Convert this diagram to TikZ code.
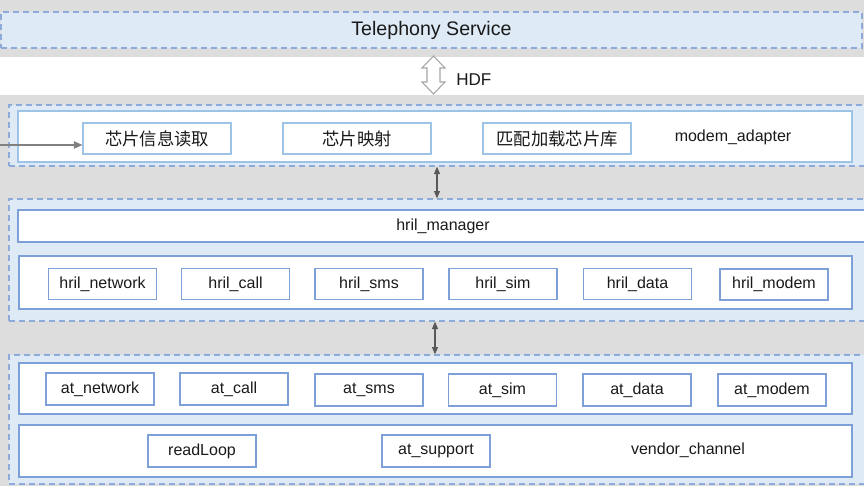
\documentclass[tikz,border=0pt]{standalone}
\usepackage{fontspec}
\setmainfont{Liberation Sans}
\newfontfamily\cjk{Noto Sans CJK SC}
\usetikzlibrary{arrows.meta}
\definecolor{bggray}{HTML}{DDDDDD}
\definecolor{lblue}{HTML}{DEEAF6}
\definecolor{dashb}{HTML}{8EAADB}
\definecolor{boxb}{HTML}{7DA0D8}
\definecolor{lboxb}{HTML}{9DC3E6}
\definecolor{txt}{HTML}{1A1A1A}
\definecolor{arrg}{HTML}{595959}
\definecolor{hdfg}{HTML}{A6A6A6}
\definecolor{leftg}{HTML}{808080}
\begin{document}
\begin{tikzpicture}[x=0.75pt,y=-0.75pt,
  every node/.style={inner sep=0pt, text=txt, font=\fontsize{12}{14}\selectfont},
  outerbox/.style={draw=dashb, fill=lblue, line width=1pt, dash pattern=on 4.5pt off 3pt, minimum width=645.75pt},
  rowbox/.style={draw=boxb, fill=white, line width=0.8pt},
  chipbox/.style={draw=lboxb, fill=white, line width=0.8pt, minimum width=111pt, minimum height=23.25pt, font=\cjk\fontsize{13}{15}\selectfont},
  modbox/.style={draw=boxb, fill=white, line width=0.8pt, minimum width=81pt},
  linkarrow/.style={draw=arrg, line width=0.8pt, {Triangle[length=5.5pt,width=4.5pt]}-{Triangle[length=5.5pt,width=4.5pt]}},
]
\useasboundingbox (0,0) rectangle (864,486);
\clip (0,0) rectangle (864,486);
% background bands
\fill[bggray] (0,0) rectangle (864,57);
\fill[white] (0,57) rectangle (864,95);
\fill[bggray] (0,95) rectangle (864,486);

% Telephony service
\node[outerbox, minimum height=27pt, font=\fontsize{14.7}{16}\selectfont] (tel) at (431.5,30) {Telephony Service};

% HDF arrow
\draw[draw=hdfg, fill=white, line width=0.8pt]
  (433.5,56) -- (445,68) -- (440,68) -- (440,82) -- (445,82) -- (433.5,94)
  -- (422,82) -- (427,82) -- (427,68) -- (422,68) -- cycle;
\node[anchor=west, font=\fontsize{12.8}{15}\selectfont] (hdf) at (456,80) {HDF};

% modem_adapter layer
\node[outerbox, minimum height=45.75pt] (modemouter) at (439.5,135.5) {};
\node[rowbox, draw=lboxb, minimum width=625.5pt, minimum height=38.25pt] (modeminner) at (435,136.5) {};
\node[chipbox] (chipread) at (157,138.5) {芯片信息读取};
\node[chipbox] (chipmap) at (357,138.5) {芯片映射};
\node[chipbox] (chiplib) at (557,138.5) {匹配加载芯片库};
\node (modemlbl) at (733,137.5) {modem\_adapter};
\coordinate (leftin) at (-2,145);
\draw[draw=leftg, line width=1pt, -{Triangle[length=6.5pt,width=5.5pt]}] (leftin) -- (leftin -| chipread.west);

% hril layer
\node[outerbox, minimum height=91.5pt] (hrilouter) at (439.5,260) {};
\node[rowbox, minimum width=639pt, minimum height=24pt] (hrilmgr) at (444,226) {};
\node (hrilmgrlbl) at (443,226.5) {hril\_manager};
\node[rowbox, minimum width=624.75pt, minimum height=39.75pt] (hrilrow) at (435.5,282.5) {};
\node[modbox, minimum height=23.25pt] (hnet) at (102.5,284) {hril\_network};
\node[modbox, minimum height=23.25pt] (hcall) at (235.5,284) {hril\_call};
\node[modbox, minimum height=23.25pt] (hsms) at (369,284) {hril\_sms};
\node[modbox, minimum height=23.25pt] (hsim) at (503,284) {hril\_sim};
\node[modbox, minimum height=23.25pt] (hdata) at (637.5,284) {hril\_data};
\node[modbox, minimum height=23.25pt] (hmodem) at (774,284.5) {hril\_modem};

% at layer
\node[outerbox, minimum height=96.75pt] (atouter) at (439.5,419.5) {};
\node[rowbox, minimum width=624.75pt, minimum height=38.25pt] (atrow) at (435.5,388.5) {};
\node[rowbox, minimum width=624.75pt, minimum height=39pt] (vendrow) at (435.5,451) {};
\node[modbox, minimum height=24pt] (anet) at (100,389) {at\_network};
\node[modbox, minimum height=24pt] (acall) at (234,389) {at\_call};
\node[modbox, minimum height=24pt] (asms) at (369,390) {at\_sms};
\node[modbox, minimum height=24pt] (asim) at (502.5,390) {at\_sim};
\node[modbox, minimum height=24pt] (adata) at (637,390) {at\_data};
\node[modbox, minimum height=24pt] (amodem) at (772,390) {at\_modem};
\node[modbox, minimum height=24pt] (rloop) at (202,451) {readLoop};
\node[modbox, minimum height=24pt] (asup) at (436,451) {at\_support};
\node (vendlbl) at (688,450.5) {vendor\_channel};

% inter-layer arrows
\coordinate (axone) at (437,0);
\coordinate (axtwo) at (435,0);
\draw[linkarrow] (modemouter.south -| axone) -- (hrilouter.north -| axone);
\draw[linkarrow] (hrilouter.south -| axtwo) -- (atouter.north -| axtwo);
\end{tikzpicture}
\end{document}
